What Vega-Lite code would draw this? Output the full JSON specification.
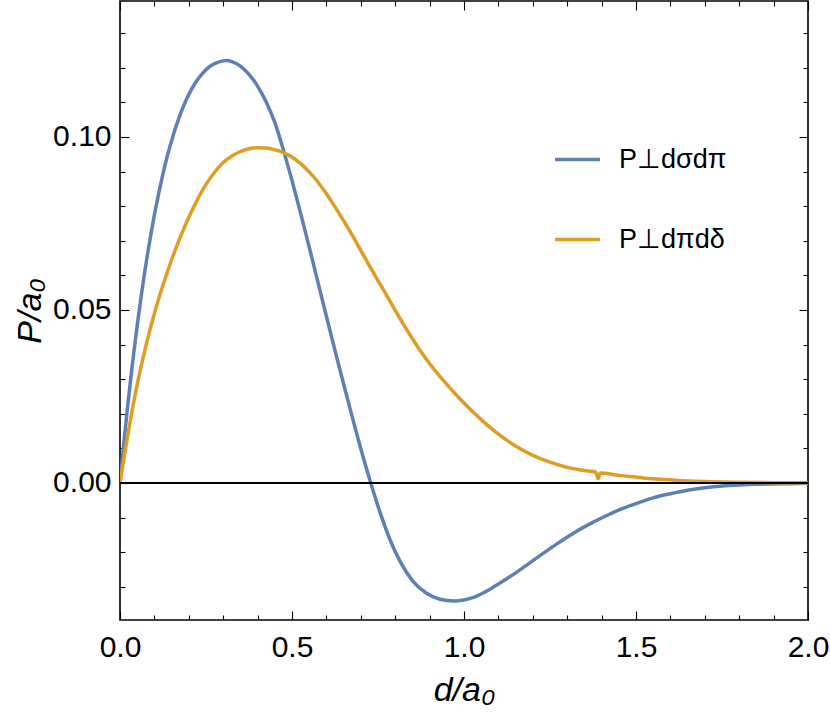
{
  "$schema": "https://vega.github.io/schema/vega-lite/v6.json",
  "width": 688,
  "height": 619,
  "autosize": "none",
  "padding": {"left": 120, "top": 1, "right": 22, "bottom": 98},
  "background": "white",
  "config": {
    "view": {"stroke": "black", "strokeWidth": 1.6},
    "font": "Liberation Sans",
    "axis": {
      "grid": false,
      "domain": false,
      "tickColor": "black",
      "tickWidth": 1.1,
      "labelColor": "black",
      "titleColor": "black",
      "labelFont": "Liberation Sans",
      "titleFont": "Liberation Sans",
      "labelFontSize": 30,
      "titleFontSize": 34,
      "titleFontWeight": "normal",
      "labelFlush": false,
      "labelOverlap": false
    },
    "legend": {
      "orient": "none",
      "legendX": 433,
      "legendY": 134,
      "symbolType": "stroke",
      "symbolSize": 2025,
      "symbolStrokeWidth": 3.5,
      "labelFontSize": 27,
      "labelFont": "Liberation Sans",
      "labelColor": "black",
      "labelOffset": 17,
      "rowPadding": 42,
      "padding": 0,
      "labelLimit": 300
    }
  },
  "data": {
    "values": [
      {"d": 0, "P": 0, "s": "P⊥dσdπ"},
      {"d": 0.01, "P": 0.0104, "s": "P⊥dσdπ"},
      {"d": 0.02, "P": 0.0201, "s": "P⊥dσdπ"},
      {"d": 0.03, "P": 0.0291, "s": "P⊥dσdπ"},
      {"d": 0.04, "P": 0.0376, "s": "P⊥dσdπ"},
      {"d": 0.05, "P": 0.0455, "s": "P⊥dσdπ"},
      {"d": 0.06, "P": 0.0529, "s": "P⊥dσdπ"},
      {"d": 0.07, "P": 0.0598, "s": "P⊥dσdπ"},
      {"d": 0.08, "P": 0.0661, "s": "P⊥dσdπ"},
      {"d": 0.09, "P": 0.072, "s": "P⊥dσdπ"},
      {"d": 0.1, "P": 0.0775, "s": "P⊥dσdπ"},
      {"d": 0.11, "P": 0.0825, "s": "P⊥dσdπ"},
      {"d": 0.12, "P": 0.0872, "s": "P⊥dσdπ"},
      {"d": 0.13, "P": 0.0915, "s": "P⊥dσdπ"},
      {"d": 0.14, "P": 0.0954, "s": "P⊥dσdπ"},
      {"d": 0.15, "P": 0.0989, "s": "P⊥dσdπ"},
      {"d": 0.16, "P": 0.1022, "s": "P⊥dσdπ"},
      {"d": 0.17, "P": 0.1051, "s": "P⊥dσdπ"},
      {"d": 0.18, "P": 0.1078, "s": "P⊥dσdπ"},
      {"d": 0.19, "P": 0.1102, "s": "P⊥dσdπ"},
      {"d": 0.2, "P": 0.1123, "s": "P⊥dσdπ"},
      {"d": 0.22, "P": 0.1158, "s": "P⊥dσdπ"},
      {"d": 0.24, "P": 0.1184, "s": "P⊥dσdπ"},
      {"d": 0.26, "P": 0.1203, "s": "P⊥dσdπ"},
      {"d": 0.28, "P": 0.1214, "s": "P⊥dσdπ"},
      {"d": 0.3, "P": 0.122, "s": "P⊥dσdπ"},
      {"d": 0.31, "P": 0.1221, "s": "P⊥dσdπ"},
      {"d": 0.325, "P": 0.1218, "s": "P⊥dσdπ"},
      {"d": 0.35, "P": 0.1205, "s": "P⊥dσdπ"},
      {"d": 0.375, "P": 0.1181, "s": "P⊥dσdπ"},
      {"d": 0.4, "P": 0.1147, "s": "P⊥dσdπ"},
      {"d": 0.425, "P": 0.1101, "s": "P⊥dσdπ"},
      {"d": 0.45, "P": 0.1042, "s": "P⊥dσdπ"},
      {"d": 0.475, "P": 0.0962, "s": "P⊥dσdπ"},
      {"d": 0.5, "P": 0.0874, "s": "P⊥dσdπ"},
      {"d": 0.525, "P": 0.078, "s": "P⊥dσdπ"},
      {"d": 0.55, "P": 0.0682, "s": "P⊥dσdπ"},
      {"d": 0.575, "P": 0.0582, "s": "P⊥dσdπ"},
      {"d": 0.6, "P": 0.0482, "s": "P⊥dσdπ"},
      {"d": 0.625, "P": 0.0383, "s": "P⊥dσdπ"},
      {"d": 0.65, "P": 0.0286, "s": "P⊥dσdπ"},
      {"d": 0.675, "P": 0.0191, "s": "P⊥dσdπ"},
      {"d": 0.7, "P": 0.0099, "s": "P⊥dσdπ"},
      {"d": 0.729, "P": 0, "s": "P⊥dσdπ"},
      {"d": 0.756, "P": -0.0085, "s": "P⊥dσdπ"},
      {"d": 0.785, "P": -0.0164, "s": "P⊥dσdπ"},
      {"d": 0.815, "P": -0.0228, "s": "P⊥dσdπ"},
      {"d": 0.85, "P": -0.0282, "s": "P⊥dσdπ"},
      {"d": 0.89, "P": -0.0318, "s": "P⊥dσdπ"},
      {"d": 0.93, "P": -0.0336, "s": "P⊥dσdπ"},
      {"d": 0.97, "P": -0.0341, "s": "P⊥dσdπ"},
      {"d": 1.0, "P": -0.0338, "s": "P⊥dσdπ"},
      {"d": 1.03, "P": -0.033, "s": "P⊥dσdπ"},
      {"d": 1.06, "P": -0.0316, "s": "P⊥dσdπ"},
      {"d": 1.09, "P": -0.0298, "s": "P⊥dσdπ"},
      {"d": 1.124, "P": -0.0277, "s": "P⊥dσdπ"},
      {"d": 1.17, "P": -0.0246, "s": "P⊥dσdπ"},
      {"d": 1.221, "P": -0.021, "s": "P⊥dσdπ"},
      {"d": 1.27, "P": -0.0176, "s": "P⊥dσdπ"},
      {"d": 1.318, "P": -0.0145, "s": "P⊥dσdπ"},
      {"d": 1.37, "P": -0.0116, "s": "P⊥dσdπ"},
      {"d": 1.415, "P": -0.0094, "s": "P⊥dσdπ"},
      {"d": 1.46, "P": -0.0074, "s": "P⊥dσdπ"},
      {"d": 1.51, "P": -0.0056, "s": "P⊥dσdπ"},
      {"d": 1.55, "P": -0.0043, "s": "P⊥dσdπ"},
      {"d": 1.6, "P": -0.0031, "s": "P⊥dσdπ"},
      {"d": 1.65, "P": -0.0021, "s": "P⊥dσdπ"},
      {"d": 1.7, "P": -0.0014, "s": "P⊥dσdπ"},
      {"d": 1.75, "P": -0.0009, "s": "P⊥dσdπ"},
      {"d": 1.8, "P": -0.0006, "s": "P⊥dσdπ"},
      {"d": 1.85, "P": -0.0004, "s": "P⊥dσdπ"},
      {"d": 1.9, "P": -0.0003, "s": "P⊥dσdπ"},
      {"d": 1.95, "P": -0.0002, "s": "P⊥dσdπ"},
      {"d": 2.0, "P": -0.0001, "s": "P⊥dσdπ"},
      {"d": 0, "P": 0, "s": "P⊥dπdδ"},
      {"d": 0.01, "P": 0.0063, "s": "P⊥dπdδ"},
      {"d": 0.025, "P": 0.0152, "s": "P⊥dπdδ"},
      {"d": 0.05, "P": 0.0285, "s": "P⊥dπdδ"},
      {"d": 0.075, "P": 0.0395, "s": "P⊥dπdδ"},
      {"d": 0.1, "P": 0.049, "s": "P⊥dπdδ"},
      {"d": 0.125, "P": 0.0572, "s": "P⊥dπdδ"},
      {"d": 0.15, "P": 0.0645, "s": "P⊥dπdδ"},
      {"d": 0.175, "P": 0.071, "s": "P⊥dπdδ"},
      {"d": 0.2, "P": 0.0768, "s": "P⊥dπdδ"},
      {"d": 0.225, "P": 0.0819, "s": "P⊥dπdδ"},
      {"d": 0.25, "P": 0.0863, "s": "P⊥dπdδ"},
      {"d": 0.275, "P": 0.0898, "s": "P⊥dπdδ"},
      {"d": 0.3, "P": 0.0926, "s": "P⊥dπdδ"},
      {"d": 0.325, "P": 0.0945, "s": "P⊥dπdδ"},
      {"d": 0.35, "P": 0.0958, "s": "P⊥dπdδ"},
      {"d": 0.375, "P": 0.0966, "s": "P⊥dπdδ"},
      {"d": 0.4, "P": 0.0969, "s": "P⊥dπdδ"},
      {"d": 0.425, "P": 0.0968, "s": "P⊥dπdδ"},
      {"d": 0.45, "P": 0.0963, "s": "P⊥dπdδ"},
      {"d": 0.475, "P": 0.0955, "s": "P⊥dπdδ"},
      {"d": 0.5, "P": 0.0942, "s": "P⊥dπdδ"},
      {"d": 0.525, "P": 0.0923, "s": "P⊥dπdδ"},
      {"d": 0.55, "P": 0.0899, "s": "P⊥dπdδ"},
      {"d": 0.575, "P": 0.087, "s": "P⊥dπdδ"},
      {"d": 0.6, "P": 0.0836, "s": "P⊥dπdδ"},
      {"d": 0.625, "P": 0.0798, "s": "P⊥dπdδ"},
      {"d": 0.65, "P": 0.0758, "s": "P⊥dπdδ"},
      {"d": 0.675, "P": 0.0716, "s": "P⊥dπdδ"},
      {"d": 0.7, "P": 0.0672, "s": "P⊥dπdδ"},
      {"d": 0.725, "P": 0.0628, "s": "P⊥dπdδ"},
      {"d": 0.75, "P": 0.0585, "s": "P⊥dπdδ"},
      {"d": 0.775, "P": 0.0542, "s": "P⊥dπdδ"},
      {"d": 0.8, "P": 0.0499, "s": "P⊥dπdδ"},
      {"d": 0.825, "P": 0.0457, "s": "P⊥dπdδ"},
      {"d": 0.85, "P": 0.0417, "s": "P⊥dπdδ"},
      {"d": 0.875, "P": 0.0379, "s": "P⊥dπdδ"},
      {"d": 0.9, "P": 0.0345, "s": "P⊥dπdδ"},
      {"d": 0.925, "P": 0.0314, "s": "P⊥dπdδ"},
      {"d": 0.95, "P": 0.0285, "s": "P⊥dπdδ"},
      {"d": 0.975, "P": 0.0257, "s": "P⊥dπdδ"},
      {"d": 1.0, "P": 0.0231, "s": "P⊥dπdδ"},
      {"d": 1.05, "P": 0.0183, "s": "P⊥dπdδ"},
      {"d": 1.1, "P": 0.0141, "s": "P⊥dπdδ"},
      {"d": 1.15, "P": 0.0107, "s": "P⊥dπdδ"},
      {"d": 1.2, "P": 0.008, "s": "P⊥dπdδ"},
      {"d": 1.25, "P": 0.006, "s": "P⊥dπdδ"},
      {"d": 1.3, "P": 0.0045, "s": "P⊥dπdδ"},
      {"d": 1.35, "P": 0.0036, "s": "P⊥dπdδ"},
      {"d": 1.383, "P": 0.0031, "s": "P⊥dπdδ"},
      {"d": 1.39, "P": 0.0012, "s": "P⊥dπdδ"},
      {"d": 1.396, "P": 0.0029, "s": "P⊥dπdδ"},
      {"d": 1.45, "P": 0.0022, "s": "P⊥dπdδ"},
      {"d": 1.5, "P": 0.0017, "s": "P⊥dπdδ"},
      {"d": 1.55, "P": 0.0012, "s": "P⊥dπdδ"},
      {"d": 1.6, "P": 0.0009, "s": "P⊥dπdδ"},
      {"d": 1.65, "P": 0.0006, "s": "P⊥dπdδ"},
      {"d": 1.7, "P": 0.0004, "s": "P⊥dπdδ"},
      {"d": 1.8, "P": 0.0002, "s": "P⊥dπdδ"},
      {"d": 1.9, "P": 0.0001, "s": "P⊥dπdδ"},
      {"d": 2.0, "P": 0.00005, "s": "P⊥dπdδ"}
    ]
  },
  "layer": [
    {
      "mark": {"type": "line", "strokeWidth": 3.5, "interpolate": "monotone", "clip": true},
      "encoding": {
        "x": {
          "field": "d", "type": "quantitative",
          "scale": {"domain": [0, 2], "nice": false, "zero": false},
          "axis": {"orient": "bottom", "values": [0, 0.5, 1, 1.5, 2], "format": ".1f", "tickSize": -9, "labelPadding": 21, "title": "d/a₀", "titleFontStyle": "italic", "titlePadding": 11}
        },
        "y": {
          "field": "P", "type": "quantitative",
          "scale": {"domain": [-0.0396, 0.1393], "nice": false, "zero": false},
          "axis": {"orient": "left", "values": [0, 0.05, 0.1], "format": ".2f", "tickSize": -9, "labelPadding": 18, "title": "P/a₀", "titleFontStyle": "italic", "titlePadding": 5}
        },
        "color": {
          "field": "s", "type": "nominal",
          "scale": {"domain": ["P⊥dσdπ", "P⊥dπdδ"], "range": ["#5E81B5", "#E19C24"]},
          "legend": {"title": null}
        }
      }
    },
    {
      "mark": {"type": "point", "opacity": 0},
      "encoding": {
        "x": {"field": "d", "type": "quantitative", "scale": {"domain": [0, 2], "nice": false, "zero": false},
          "axis": {"orient": "bottom", "values": [0.1, 0.2, 0.3, 0.4, 0.6, 0.7, 0.8, 0.9, 1.1, 1.2, 1.3, 1.4, 1.6, 1.7, 1.8, 1.9], "tickSize": -5, "labels": false, "title": null}},
        "y": {"field": "P", "type": "quantitative", "scale": {"domain": [-0.0396, 0.1393], "nice": false, "zero": false},
          "axis": {"orient": "right", "values": [0, 0.05, 0.1], "tickSize": -9, "labels": false, "title": null}}
      }
    },
    {
      "mark": {"type": "point", "opacity": 0},
      "encoding": {
        "x": {"field": "d", "type": "quantitative", "scale": {"domain": [0, 2], "nice": false, "zero": false},
          "axis": {"orient": "top", "values": [0, 0.5, 1, 1.5, 2], "tickSize": -9, "labels": false, "title": null}},
        "y": {"field": "P", "type": "quantitative", "scale": {"domain": [-0.0396, 0.1393], "nice": false, "zero": false},
          "axis": {"orient": "right", "values": [-0.03, -0.02, -0.01, 0.01, 0.02, 0.03, 0.04, 0.06, 0.07, 0.08, 0.09, 0.11, 0.12, 0.13], "tickSize": -5, "labels": false, "title": null}}
      }
    },
    {
      "mark": {"type": "point", "opacity": 0},
      "encoding": {
        "x": {"field": "d", "type": "quantitative", "scale": {"domain": [0, 2], "nice": false, "zero": false},
          "axis": {"orient": "top", "values": [0.1, 0.2, 0.3, 0.4, 0.6, 0.7, 0.8, 0.9, 1.1, 1.2, 1.3, 1.4, 1.6, 1.7, 1.8, 1.9], "tickSize": -5, "labels": false, "title": null}},
        "y": {"field": "P", "type": "quantitative", "scale": {"domain": [-0.0396, 0.1393], "nice": false, "zero": false},
          "axis": {"orient": "left", "values": [-0.03, -0.02, -0.01, 0.01, 0.02, 0.03, 0.04, 0.06, 0.07, 0.08, 0.09, 0.11, 0.12, 0.13], "tickSize": -5, "labels": false, "title": null}}
      }
    },
    {
      "data": {"values": [{}]},
      "mark": {"type": "rule", "color": "black", "strokeWidth": 2},
      "encoding": {
        "y": {"datum": 0, "type": "quantitative", "axis": null}
      }
    }
  ],
  "resolve": {"axis": {"x": "independent", "y": "independent"}}
}
